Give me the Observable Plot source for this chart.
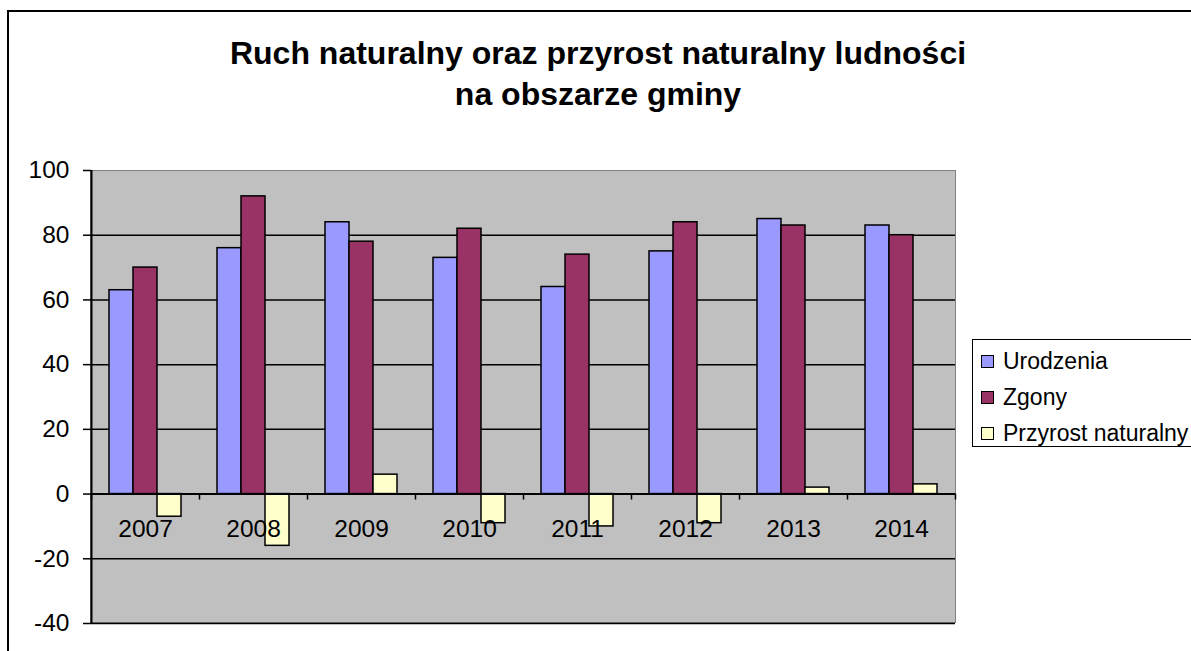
<!DOCTYPE html>
<html><head><meta charset="utf-8">
<script src="https://cdn.jsdelivr.net/npm/d3@7"></script>
<script src="https://cdn.jsdelivr.net/npm/@observablehq/plot@0.6"></script>
<style>
body{margin:0;width:1191px;height:651px;overflow:hidden;background:#fff;position:relative;font-family:"Liberation Sans",Arial,sans-serif;}
#border{position:absolute;left:7px;top:10px;width:1400px;height:800px;border:2px solid #000;}
#title{position:absolute;left:0;width:1196px;top:33px;text-align:center;font-weight:bold;font-size:32px;line-height:41px;color:#000;white-space:nowrap;}
#bg{position:absolute;left:90px;top:170px;width:866px;height:453px;background:#c0c0c0;box-sizing:border-box;border:1.5px solid #808080;}
#chart{position:absolute;left:0;top:160px;}
#legend{position:absolute;left:972px;top:339px;width:400px;height:108px;border:1.5px solid #000;background:#fff;box-sizing:border-box;}
.item{position:absolute;left:8px;font-size:23px;line-height:23px;white-space:nowrap;}
.sw{position:absolute;left:0;top:5px;width:11px;height:11px;border:1px solid #000;}
.lbl{position:absolute;left:22px;top:0;}
</style>
</head><body>
<div id="border"></div>
<div id="title">Ruch naturalny oraz przyrost naturalny ludności<br>na obszarze gminy</div>
<div id="bg"></div>
<div id="chart"></div>
<div id="legend"></div>
<script>
const years = ["2007","2008","2009","2010","2011","2012","2013","2014"];
const urodzenia = [63,76,84,73,64,75,85,83];
const zgony = [70,92,78,82,74,84,83,80];
const przyrost = [-7,-16,6,-9,-10,-9,2,3];
const seriesNames = ["Urodzenia","Zgony","Przyrost naturalny"];
const seriesColors = ["#9999FF","#993366","#FFFFCC"];
const yTicks = [-40,-20,0,20,40,60,80,100];

const seriesValues = [urodzenia, zgony, przyrost];
const data = years.flatMap((yr,i)=>seriesNames.map((s,j)=>({year:yr, series:s, value:seriesValues[j][i]})));

const chart = Plot.plot({
  width: 966, height: 473,
  marginLeft: 90, marginRight: 10, marginTop: 10, marginBottom: 10,
  style: {background:"transparent", fontFamily:"'Liberation Sans', Arial, sans-serif", fontSize:"24.5px", color:"#000", overflow:"visible"},
  fx: {domain: years, padding: 0},
  x: {domain: seriesNames, paddingInner: 0, paddingOuter: 0.75, axis: null},
  y: {domain: [-40,100], ticks: yTicks},
  color: {domain: seriesNames, range: seriesColors},
  marks: [
    Plot.gridY(yTicks.filter(t=>t!==0 && t!==100), {stroke:"#000", strokeOpacity:1, strokeWidth:1.5}),
    Plot.barY(data, {fx:"year", x:"series", y:"value", fill:"series", stroke:"#000", strokeWidth:1.5}),
    Plot.ruleY([0], {stroke:"#000", strokeWidth:2}),
    Plot.ruleX(years, {fx:d=>d, x:()=>seriesNames[0], y1:()=>0, y2:()=>0, dx:-30, insetBottom:-6, stroke:"#000", strokeWidth:1.5}),
    Plot.ruleX([years[years.length-1]], {fx:d=>d, x:()=>seriesNames[2], y1:()=>0, y2:()=>0, dx:30, insetBottom:-6, stroke:"#000", strokeWidth:1.5}),
    Plot.ruleX([years[0]], {fx:d=>d, x:()=>seriesNames[0], dx:-30, stroke:"#000", strokeWidth:2}),
    Plot.axisY(yTicks, {anchor:"left", tickSize:8, tickPadding:14, fontSize:24.5, stroke:"#000", strokeWidth:1.5, label:null, tickFormat:d=>String(d)}),
    Plot.axisFx({anchor:"bottom", tickSize:0, tickPadding:0, dy:-104, fontSize:24.5, label:null})
  ]
});
document.getElementById("chart").appendChild(chart);

const leg = document.getElementById("legend");
seriesNames.forEach((s,i)=>{
  const it = document.createElement("div");
  it.className = "item";
  it.style.top = (10 + i*36) + "px";
  it.innerHTML = `<span class="sw" style="background:${seriesColors[i]}"></span><span class="lbl">${s}</span>`;
  leg.appendChild(it);
});
</script>
</body></html>
